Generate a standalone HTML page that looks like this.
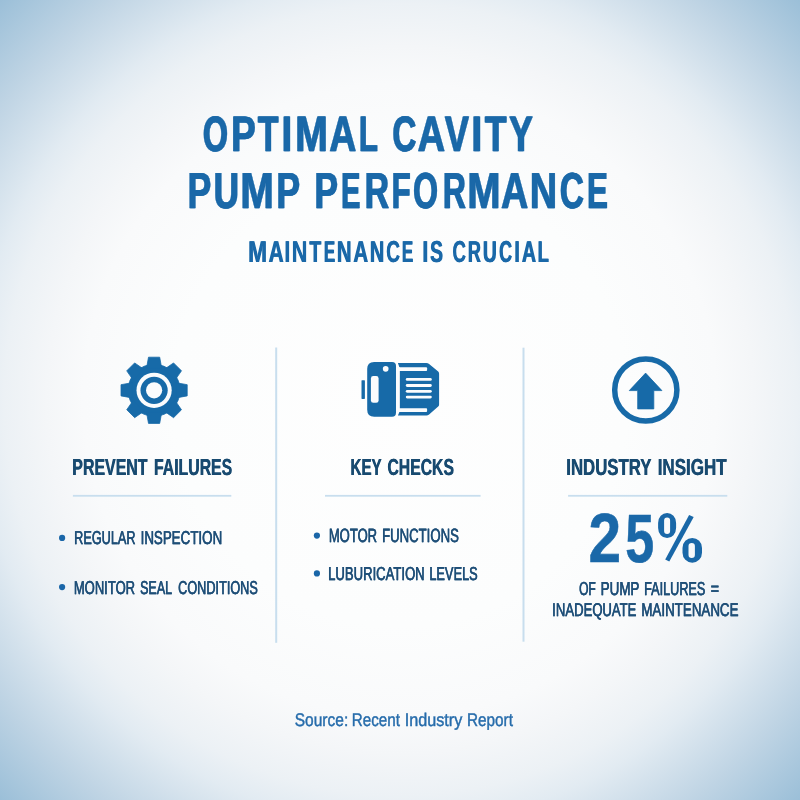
<!DOCTYPE html>
<html><head><meta charset="utf-8"><style>
html,body{margin:0;padding:0;width:800px;height:800px;overflow:hidden}
body{background:radial-gradient(farthest-corner at 50% 50%, #fefefe 0%, #fcfdfd 40%, #f9fafb 56%, #f4f6f8 62.5%, #ecf1f5 70%, #e2ebf2 75%, #bfd4e4 87.5%, #9bbfd8 100%);font-family:"Liberation Sans",sans-serif}
svg{position:absolute;left:0;top:0;will-change:transform}
text{font-family:"Liberation Sans",sans-serif;text-rendering:geometricPrecision}
</style></head><body>
<svg width="800" height="800" viewBox="0 0 800 800">
<g fill="#c8deee">
<rect x="275.2" y="347.5" width="2" height="295.3"/>
<rect x="522.5" y="347.7" width="2" height="294"/>
<rect x="72.9" y="494.9" width="158.4" height="1.8"/>
<rect x="325" y="494.9" width="155.6" height="1.8"/>
<rect x="568.1" y="494.9" width="159.2" height="1.8"/>
</g>
<g fill="#176aa8" stroke="#176aa8" stroke-width="0.8" stroke-linejoin="round">
<circle cx="154.1" cy="390.3" r="26.0"/>
<polygon points="146.50,368.30 148.50,357.20 159.70,357.20 161.70,368.30"/><polygon points="164.28,369.37 173.55,362.93 181.47,370.85 175.03,380.12"/><polygon points="176.10,382.70 187.20,384.70 187.20,395.90 176.10,397.90"/><polygon points="175.03,400.48 181.47,409.75 173.55,417.67 164.28,411.23"/><polygon points="161.70,412.30 159.70,423.40 148.50,423.40 146.50,412.30"/><polygon points="143.92,411.23 134.65,417.67 126.73,409.75 133.17,400.48"/><polygon points="132.10,397.90 121.00,395.90 121.00,384.70 132.10,382.70"/><polygon points="133.17,380.12 126.73,370.85 134.65,362.93 143.92,369.37"/>
</g>
<circle cx="154.1" cy="390.3" r="17.6" fill="#fbfcfd"/>
<circle cx="154.1" cy="390.3" r="13.6" fill="#176aa8"/>
<circle cx="154.1" cy="390.3" r="8.1" fill="#fbfcfd"/>
<g fill="#176aa8">
<rect x="361.5" y="380.2" width="3.4" height="18.7" rx="0.6"/>
<path d="M374.2,361.9 H392 Q396,361.9 396,366 V412.7 Q396,416.8 392,416.8 H374.2 Q367.2,416.8 367.2,409.8 V368.9 Q367.2,361.9 374.2,361.9 Z"/>
<path d="M397.9,363.1 H426.3 Q427.9,363.1 429.1,364.1 L438.2,371.5 Q439.1,372.3 439.1,373.8 V404.4 Q439.1,405.8 438.2,406.6 L429.1,414.5 Q427.9,415.5 426.3,415.5 H397.9 L399.4,411.9 V367.2 Z"/>
</g>
<g fill="#fbfcfd">
<circle cx="385.7" cy="368.8" r="2.85"/>
<rect x="370.9" y="376" width="7.7" height="26.8" rx="2.4"/>
<rect x="396.5" y="367.3" width="30.6" height="3.6" rx="0.9"/>
<rect x="396.5" y="408.2" width="30.6" height="3.7" rx="0.9"/>
<rect x="396" y="367.2" width="3.75" height="44.7"/>
<rect x="405.8" y="378.0" width="26" height="2.8" rx="1.4"/>
<rect x="405.8" y="384.1" width="26" height="2.8" rx="1.4"/>
<rect x="405.8" y="389.9" width="26" height="2.8" rx="1.4"/>
<rect x="405.8" y="395.7" width="26" height="2.8" rx="1.4"/>
</g>
<circle cx="645.8" cy="390" r="31.1" fill="none" stroke="#176aa8" stroke-width="5.5"/>
<path d="M645.6,373.1 L661.9,390.6 H653.8 V408.9 H637.7 V390.6 H629.3 Z" fill="#176aa8" stroke="#176aa8" stroke-width="0.8" stroke-linejoin="round"/>
<g fill="#1a66a8">
<circle cx="62.1" cy="537.9" r="3.1"/>
<circle cx="62.1" cy="587.1" r="3.1"/>
<circle cx="316.9" cy="535.6" r="3.1"/>
<circle cx="316.9" cy="573.4" r="3.1"/>
</g>
<path fill-rule="evenodd" fill="#1a68a8" d="M667.10,512.90 H667.10 A9.0,10.0 0 0 1 676.10,522.90 V528.10 A9.0,10.0 0 0 1 667.10,538.10 H667.10 A9.0,10.0 0 0 1 658.10,528.10 V522.90 A9.0,10.0 0 0 1 667.10,512.90 Z M667.10,517.40 H667.10 A3.0,3.0 0 0 1 670.10,520.40 V530.90 A3.0,3.0 0 0 1 667.10,533.90 H667.10 A3.0,3.0 0 0 1 664.10,530.90 V520.40 A3.0,3.0 0 0 1 667.10,517.40 Z M692.25,537.90 H692.25 A9.75,10.0 0 0 1 702.00,547.90 V552.80 A9.75,10.0 0 0 1 692.25,562.80 H692.25 A9.75,10.0 0 0 1 682.50,552.80 V547.90 A9.75,10.0 0 0 1 692.25,537.90 Z M691.70,542.90 H691.70 A3.2,3.2 0 0 1 694.90,546.10 V554.70 A3.2,3.2 0 0 1 691.70,557.90 H691.70 A3.2,3.2 0 0 1 688.50,554.70 V546.10 A3.2,3.2 0 0 1 691.70,542.90 Z "/><path fill="#1a68a8" d="M689.1,515.0 L693.7,517.0 L669.3,561.6 L665.2,559.6 Z"/>
<text id="h1" x="72.10" y="474.70" font-size="23.18" font-weight="bold" fill="#184a70" textLength="75.22" lengthAdjust="spacingAndGlyphs">PREVENT</text>
<text x="72.55" y="474.70" font-size="23.18" font-weight="bold" fill="#184a70" textLength="75.22" lengthAdjust="spacingAndGlyphs">PREVENT</text>
<text x="153.76" y="474.70" font-size="23.18" font-weight="bold" fill="#184a70" textLength="78.21" lengthAdjust="spacingAndGlyphs">FAILURES</text>
<text x="154.21" y="474.70" font-size="23.18" font-weight="bold" fill="#184a70" textLength="78.21" lengthAdjust="spacingAndGlyphs">FAILURES</text>
<text id="h2" x="350.30" y="474.70" font-size="23.18" font-weight="bold" fill="#184a70" textLength="31.16" lengthAdjust="spacingAndGlyphs">KEY</text>
<text x="350.75" y="474.70" font-size="23.18" font-weight="bold" fill="#184a70" textLength="31.16" lengthAdjust="spacingAndGlyphs">KEY</text>
<text x="387.26" y="474.70" font-size="23.18" font-weight="bold" fill="#184a70" textLength="66.46" lengthAdjust="spacingAndGlyphs">CHECKS</text>
<text x="387.71" y="474.70" font-size="23.18" font-weight="bold" fill="#184a70" textLength="66.46" lengthAdjust="spacingAndGlyphs">CHECKS</text>
<text id="h3" x="566.05" y="474.70" font-size="23.18" font-weight="bold" fill="#184a70" textLength="85.18" lengthAdjust="spacingAndGlyphs">INDUSTRY</text>
<text x="566.50" y="474.70" font-size="23.18" font-weight="bold" fill="#184a70" textLength="85.18" lengthAdjust="spacingAndGlyphs">INDUSTRY</text>
<text x="657.44" y="474.70" font-size="23.18" font-weight="bold" fill="#184a70" textLength="69.04" lengthAdjust="spacingAndGlyphs">INSIGHT</text>
<text x="657.89" y="474.70" font-size="23.18" font-weight="bold" fill="#184a70" textLength="69.04" lengthAdjust="spacingAndGlyphs">INSIGHT</text>
<text id="b1" x="74.01" y="544.10" font-size="18.63" font-weight="normal" fill="#1f4f78" textLength="61.43" lengthAdjust="spacingAndGlyphs" stroke="#1f4f78" stroke-width="0.3">REGULAR</text>
<text x="74.26" y="544.10" font-size="18.63" font-weight="normal" fill="#1f4f78" textLength="61.43" lengthAdjust="spacingAndGlyphs" stroke="#1f4f78" stroke-width="0.3">REGULAR</text>
<text x="140.46" y="544.10" font-size="18.63" font-weight="normal" fill="#1f4f78" textLength="81.58" lengthAdjust="spacingAndGlyphs" stroke="#1f4f78" stroke-width="0.3">INSPECTION</text>
<text x="140.71" y="544.10" font-size="18.63" font-weight="normal" fill="#1f4f78" textLength="81.58" lengthAdjust="spacingAndGlyphs" stroke="#1f4f78" stroke-width="0.3">INSPECTION</text>
<text id="b2" x="73.73" y="593.50" font-size="18.63" font-weight="normal" fill="#1f4f78" textLength="61.22" lengthAdjust="spacingAndGlyphs" stroke="#1f4f78" stroke-width="0.3">MONITOR</text>
<text x="73.98" y="593.50" font-size="18.63" font-weight="normal" fill="#1f4f78" textLength="61.22" lengthAdjust="spacingAndGlyphs" stroke="#1f4f78" stroke-width="0.3">MONITOR</text>
<text x="140.01" y="593.50" font-size="18.63" font-weight="normal" fill="#1f4f78" textLength="31.95" lengthAdjust="spacingAndGlyphs" stroke="#1f4f78" stroke-width="0.3">SEAL</text>
<text x="140.26" y="593.50" font-size="18.63" font-weight="normal" fill="#1f4f78" textLength="31.95" lengthAdjust="spacingAndGlyphs" stroke="#1f4f78" stroke-width="0.3">SEAL</text>
<text x="178.01" y="593.50" font-size="18.63" font-weight="normal" fill="#1f4f78" textLength="79.68" lengthAdjust="spacingAndGlyphs" stroke="#1f4f78" stroke-width="0.3">CONDITIONS</text>
<text x="178.26" y="593.50" font-size="18.63" font-weight="normal" fill="#1f4f78" textLength="79.68" lengthAdjust="spacingAndGlyphs" stroke="#1f4f78" stroke-width="0.3">CONDITIONS</text>
<text id="b3" x="328.73" y="542.30" font-size="19.20" font-weight="normal" fill="#1f4f78" textLength="48.22" lengthAdjust="spacingAndGlyphs" stroke="#1f4f78" stroke-width="0.3">MOTOR</text>
<text x="328.98" y="542.30" font-size="19.20" font-weight="normal" fill="#1f4f78" textLength="48.22" lengthAdjust="spacingAndGlyphs" stroke="#1f4f78" stroke-width="0.3">MOTOR</text>
<text x="381.97" y="542.30" font-size="19.20" font-weight="normal" fill="#1f4f78" textLength="76.73" lengthAdjust="spacingAndGlyphs" stroke="#1f4f78" stroke-width="0.3">FUNCTIONS</text>
<text x="382.22" y="542.30" font-size="19.20" font-weight="normal" fill="#1f4f78" textLength="76.73" lengthAdjust="spacingAndGlyphs" stroke="#1f4f78" stroke-width="0.3">FUNCTIONS</text>
<text id="b4" x="327.98" y="580.20" font-size="18.77" font-weight="normal" fill="#1f4f78" textLength="96.59" lengthAdjust="spacingAndGlyphs" stroke="#1f4f78" stroke-width="0.3">LUBURICATION</text>
<text x="328.23" y="580.20" font-size="18.77" font-weight="normal" fill="#1f4f78" textLength="96.59" lengthAdjust="spacingAndGlyphs" stroke="#1f4f78" stroke-width="0.3">LUBURICATION</text>
<text x="429.25" y="580.20" font-size="18.77" font-weight="normal" fill="#1f4f78" textLength="48.28" lengthAdjust="spacingAndGlyphs" stroke="#1f4f78" stroke-width="0.3">LEVELS</text>
<text x="429.50" y="580.20" font-size="18.77" font-weight="normal" fill="#1f4f78" textLength="48.28" lengthAdjust="spacingAndGlyphs" stroke="#1f4f78" stroke-width="0.3">LEVELS</text>
<text id="p1" x="588.42" y="562.00" font-size="69.83" font-weight="bold" fill="#1a68a8" textLength="32.53" lengthAdjust="spacingAndGlyphs" stroke="#1a68a8" stroke-width="0.6">2</text>
<text id="p1b" x="625.29" y="561.60" font-size="68.27" font-weight="bold" fill="#1a68a8" textLength="28.91" lengthAdjust="spacingAndGlyphs" stroke="#1a68a8" stroke-width="0.6">5</text>
<text id="p2" x="578.94" y="594.50" font-size="18.77" font-weight="normal" fill="#1f4f78" textLength="16.71" lengthAdjust="spacingAndGlyphs" stroke="#1f4f78" stroke-width="0.3">OF</text>
<text x="579.19" y="594.50" font-size="18.77" font-weight="normal" fill="#1f4f78" textLength="16.71" lengthAdjust="spacingAndGlyphs" stroke="#1f4f78" stroke-width="0.3">OF</text>
<text x="600.45" y="594.50" font-size="18.77" font-weight="normal" fill="#1f4f78" textLength="38.87" lengthAdjust="spacingAndGlyphs" stroke="#1f4f78" stroke-width="0.3">PUMP</text>
<text x="600.70" y="594.50" font-size="18.77" font-weight="normal" fill="#1f4f78" textLength="38.87" lengthAdjust="spacingAndGlyphs" stroke="#1f4f78" stroke-width="0.3">PUMP</text>
<text x="644.01" y="594.50" font-size="18.77" font-weight="normal" fill="#1f4f78" textLength="61.27" lengthAdjust="spacingAndGlyphs" stroke="#1f4f78" stroke-width="0.3">FAILURES</text>
<text x="644.26" y="594.50" font-size="18.77" font-weight="normal" fill="#1f4f78" textLength="61.27" lengthAdjust="spacingAndGlyphs" stroke="#1f4f78" stroke-width="0.3">FAILURES</text>
<text x="710.57" y="594.50" font-size="18.77" font-weight="normal" fill="#1f4f78" textLength="8.47" lengthAdjust="spacingAndGlyphs" stroke="#1f4f78" stroke-width="0.3">=</text>
<text x="710.82" y="594.50" font-size="18.77" font-weight="normal" fill="#1f4f78" textLength="8.47" lengthAdjust="spacingAndGlyphs" stroke="#1f4f78" stroke-width="0.3">=</text>
<text id="p3" x="552.08" y="615.50" font-size="18.49" font-weight="normal" fill="#1f4f78" textLength="84.22" lengthAdjust="spacingAndGlyphs" stroke="#1f4f78" stroke-width="0.3">INADEQUATE</text>
<text x="552.33" y="615.50" font-size="18.49" font-weight="normal" fill="#1f4f78" textLength="84.22" lengthAdjust="spacingAndGlyphs" stroke="#1f4f78" stroke-width="0.3">INADEQUATE</text>
<text x="641.21" y="615.50" font-size="18.49" font-weight="normal" fill="#1f4f78" textLength="97.20" lengthAdjust="spacingAndGlyphs" stroke="#1f4f78" stroke-width="0.3">MAINTENANCE</text>
<text x="641.46" y="615.50" font-size="18.49" font-weight="normal" fill="#1f4f78" textLength="97.20" lengthAdjust="spacingAndGlyphs" stroke="#1f4f78" stroke-width="0.3">MAINTENANCE</text>
<text id="s1" x="294.77" y="725.80" font-size="18.20" font-weight="normal" fill="#266cab" textLength="53.44" lengthAdjust="spacingAndGlyphs" stroke="#266cab" stroke-width="0.45">Source:</text>
<text x="351.81" y="725.80" font-size="18.20" font-weight="normal" fill="#266cab" textLength="48.13" lengthAdjust="spacingAndGlyphs" stroke="#266cab" stroke-width="0.45">Recent</text>
<text x="404.74" y="725.80" font-size="18.20" font-weight="normal" fill="#266cab" textLength="57.56" lengthAdjust="spacingAndGlyphs" stroke="#266cab" stroke-width="0.45">Industry</text>
<text x="467.00" y="725.80" font-size="18.20" font-weight="normal" fill="#266cab" textLength="45.94" lengthAdjust="spacingAndGlyphs" stroke="#266cab" stroke-width="0.45">Report</text>
<text x="202.60" y="151.20" font-size="49.78" font-weight="bold" fill="#1a68a8" textLength="24.89" lengthAdjust="spacingAndGlyphs" stroke="#1a68a8" stroke-width="0.5">O</text>
<text x="203.40" y="151.20" font-size="49.78" font-weight="bold" fill="#1a68a8" textLength="24.89" lengthAdjust="spacingAndGlyphs" stroke="#1a68a8" stroke-width="0.5">O</text>
<text x="230.70" y="151.20" font-size="49.78" font-weight="bold" fill="#1a68a8" textLength="24.57" lengthAdjust="spacingAndGlyphs" stroke="#1a68a8" stroke-width="0.5">P</text>
<text x="231.50" y="151.20" font-size="49.78" font-weight="bold" fill="#1a68a8" textLength="24.57" lengthAdjust="spacingAndGlyphs" stroke="#1a68a8" stroke-width="0.5">P</text>
<text x="257.50" y="151.20" font-size="49.78" font-weight="bold" fill="#1a68a8" textLength="20.65" lengthAdjust="spacingAndGlyphs" stroke="#1a68a8" stroke-width="0.5">T</text>
<text x="258.30" y="151.20" font-size="49.78" font-weight="bold" fill="#1a68a8" textLength="20.65" lengthAdjust="spacingAndGlyphs" stroke="#1a68a8" stroke-width="0.5">T</text>
<text x="281.24" y="151.20" font-size="49.78" font-weight="bold" fill="#1a68a8" textLength="10.49" lengthAdjust="spacingAndGlyphs" stroke="#1a68a8" stroke-width="0.5">I</text>
<text x="282.04" y="151.20" font-size="49.78" font-weight="bold" fill="#1a68a8" textLength="10.49" lengthAdjust="spacingAndGlyphs" stroke="#1a68a8" stroke-width="0.5">I</text>
<text x="294.74" y="151.20" font-size="49.78" font-weight="bold" fill="#1a68a8" textLength="32.80" lengthAdjust="spacingAndGlyphs" stroke="#1a68a8" stroke-width="0.5">M</text>
<text x="295.54" y="151.20" font-size="49.78" font-weight="bold" fill="#1a68a8" textLength="32.80" lengthAdjust="spacingAndGlyphs" stroke="#1a68a8" stroke-width="0.5">M</text>
<text x="329.02" y="151.20" font-size="49.78" font-weight="bold" fill="#1a68a8" textLength="26.89" lengthAdjust="spacingAndGlyphs" stroke="#1a68a8" stroke-width="0.5">A</text>
<text x="329.82" y="151.20" font-size="49.78" font-weight="bold" fill="#1a68a8" textLength="26.89" lengthAdjust="spacingAndGlyphs" stroke="#1a68a8" stroke-width="0.5">A</text>
<text x="358.46" y="151.20" font-size="49.78" font-weight="bold" fill="#1a68a8" textLength="18.97" lengthAdjust="spacingAndGlyphs" stroke="#1a68a8" stroke-width="0.5">L</text>
<text x="359.26" y="151.20" font-size="49.78" font-weight="bold" fill="#1a68a8" textLength="18.97" lengthAdjust="spacingAndGlyphs" stroke="#1a68a8" stroke-width="0.5">L</text>
<text x="392.06" y="151.20" font-size="49.78" font-weight="bold" fill="#1a68a8" textLength="23.97" lengthAdjust="spacingAndGlyphs" stroke="#1a68a8" stroke-width="0.5">C</text>
<text x="392.86" y="151.20" font-size="49.78" font-weight="bold" fill="#1a68a8" textLength="23.97" lengthAdjust="spacingAndGlyphs" stroke="#1a68a8" stroke-width="0.5">C</text>
<text x="417.31" y="151.20" font-size="49.78" font-weight="bold" fill="#1a68a8" textLength="27.42" lengthAdjust="spacingAndGlyphs" stroke="#1a68a8" stroke-width="0.5">A</text>
<text x="418.11" y="151.20" font-size="49.78" font-weight="bold" fill="#1a68a8" textLength="27.42" lengthAdjust="spacingAndGlyphs" stroke="#1a68a8" stroke-width="0.5">A</text>
<text x="444.40" y="151.20" font-size="49.78" font-weight="bold" fill="#1a68a8" textLength="24.02" lengthAdjust="spacingAndGlyphs" stroke="#1a68a8" stroke-width="0.5">V</text>
<text x="445.20" y="151.20" font-size="49.78" font-weight="bold" fill="#1a68a8" textLength="24.02" lengthAdjust="spacingAndGlyphs" stroke="#1a68a8" stroke-width="0.5">V</text>
<text x="471.12" y="151.20" font-size="49.78" font-weight="bold" fill="#1a68a8" textLength="10.58" lengthAdjust="spacingAndGlyphs" stroke="#1a68a8" stroke-width="0.5">I</text>
<text x="471.92" y="151.20" font-size="49.78" font-weight="bold" fill="#1a68a8" textLength="10.58" lengthAdjust="spacingAndGlyphs" stroke="#1a68a8" stroke-width="0.5">I</text>
<text x="484.40" y="151.20" font-size="49.78" font-weight="bold" fill="#1a68a8" textLength="21.75" lengthAdjust="spacingAndGlyphs" stroke="#1a68a8" stroke-width="0.5">T</text>
<text x="485.20" y="151.20" font-size="49.78" font-weight="bold" fill="#1a68a8" textLength="21.75" lengthAdjust="spacingAndGlyphs" stroke="#1a68a8" stroke-width="0.5">T</text>
<text x="508.85" y="151.20" font-size="49.78" font-weight="bold" fill="#1a68a8" textLength="23.48" lengthAdjust="spacingAndGlyphs" stroke="#1a68a8" stroke-width="0.5">Y</text>
<text x="509.65" y="151.20" font-size="49.78" font-weight="bold" fill="#1a68a8" textLength="23.48" lengthAdjust="spacingAndGlyphs" stroke="#1a68a8" stroke-width="0.5">Y</text>
<text x="187.19" y="208.40" font-size="50.63" font-weight="bold" fill="#1a68a8" textLength="23.54" lengthAdjust="spacingAndGlyphs" stroke="#1a68a8" stroke-width="0.5">P</text>
<text x="187.99" y="208.40" font-size="50.63" font-weight="bold" fill="#1a68a8" textLength="23.54" lengthAdjust="spacingAndGlyphs" stroke="#1a68a8" stroke-width="0.5">P</text>
<text x="213.37" y="208.40" font-size="50.63" font-weight="bold" fill="#1a68a8" textLength="25.07" lengthAdjust="spacingAndGlyphs" stroke="#1a68a8" stroke-width="0.5">U</text>
<text x="214.17" y="208.40" font-size="50.63" font-weight="bold" fill="#1a68a8" textLength="25.07" lengthAdjust="spacingAndGlyphs" stroke="#1a68a8" stroke-width="0.5">U</text>
<text x="239.99" y="208.40" font-size="50.63" font-weight="bold" fill="#1a68a8" textLength="33.49" lengthAdjust="spacingAndGlyphs" stroke="#1a68a8" stroke-width="0.5">M</text>
<text x="240.79" y="208.40" font-size="50.63" font-weight="bold" fill="#1a68a8" textLength="33.49" lengthAdjust="spacingAndGlyphs" stroke="#1a68a8" stroke-width="0.5">M</text>
<text x="275.88" y="208.40" font-size="50.63" font-weight="bold" fill="#1a68a8" textLength="23.65" lengthAdjust="spacingAndGlyphs" stroke="#1a68a8" stroke-width="0.5">P</text>
<text x="276.68" y="208.40" font-size="50.63" font-weight="bold" fill="#1a68a8" textLength="23.65" lengthAdjust="spacingAndGlyphs" stroke="#1a68a8" stroke-width="0.5">P</text>
<text x="314.04" y="208.40" font-size="50.63" font-weight="bold" fill="#1a68a8" textLength="23.59" lengthAdjust="spacingAndGlyphs" stroke="#1a68a8" stroke-width="0.5">P</text>
<text x="314.84" y="208.40" font-size="50.63" font-weight="bold" fill="#1a68a8" textLength="23.59" lengthAdjust="spacingAndGlyphs" stroke="#1a68a8" stroke-width="0.5">P</text>
<text x="340.69" y="208.40" font-size="50.63" font-weight="bold" fill="#1a68a8" textLength="19.27" lengthAdjust="spacingAndGlyphs" stroke="#1a68a8" stroke-width="0.5">E</text>
<text x="341.49" y="208.40" font-size="50.63" font-weight="bold" fill="#1a68a8" textLength="19.27" lengthAdjust="spacingAndGlyphs" stroke="#1a68a8" stroke-width="0.5">E</text>
<text x="364.13" y="208.40" font-size="50.63" font-weight="bold" fill="#1a68a8" textLength="24.46" lengthAdjust="spacingAndGlyphs" stroke="#1a68a8" stroke-width="0.5">R</text>
<text x="364.93" y="208.40" font-size="50.63" font-weight="bold" fill="#1a68a8" textLength="24.46" lengthAdjust="spacingAndGlyphs" stroke="#1a68a8" stroke-width="0.5">R</text>
<text x="391.15" y="208.40" font-size="50.63" font-weight="bold" fill="#1a68a8" textLength="19.07" lengthAdjust="spacingAndGlyphs" stroke="#1a68a8" stroke-width="0.5">F</text>
<text x="391.95" y="208.40" font-size="50.63" font-weight="bold" fill="#1a68a8" textLength="19.07" lengthAdjust="spacingAndGlyphs" stroke="#1a68a8" stroke-width="0.5">F</text>
<text x="412.75" y="208.40" font-size="50.63" font-weight="bold" fill="#1a68a8" textLength="24.84" lengthAdjust="spacingAndGlyphs" stroke="#1a68a8" stroke-width="0.5">O</text>
<text x="413.55" y="208.40" font-size="50.63" font-weight="bold" fill="#1a68a8" textLength="24.84" lengthAdjust="spacingAndGlyphs" stroke="#1a68a8" stroke-width="0.5">O</text>
<text x="442.41" y="208.40" font-size="50.63" font-weight="bold" fill="#1a68a8" textLength="23.00" lengthAdjust="spacingAndGlyphs" stroke="#1a68a8" stroke-width="0.5">R</text>
<text x="443.21" y="208.40" font-size="50.63" font-weight="bold" fill="#1a68a8" textLength="23.00" lengthAdjust="spacingAndGlyphs" stroke="#1a68a8" stroke-width="0.5">R</text>
<text x="466.92" y="208.40" font-size="50.63" font-weight="bold" fill="#1a68a8" textLength="33.09" lengthAdjust="spacingAndGlyphs" stroke="#1a68a8" stroke-width="0.5">M</text>
<text x="467.72" y="208.40" font-size="50.63" font-weight="bold" fill="#1a68a8" textLength="33.09" lengthAdjust="spacingAndGlyphs" stroke="#1a68a8" stroke-width="0.5">M</text>
<text x="500.66" y="208.40" font-size="50.63" font-weight="bold" fill="#1a68a8" textLength="27.05" lengthAdjust="spacingAndGlyphs" stroke="#1a68a8" stroke-width="0.5">A</text>
<text x="501.46" y="208.40" font-size="50.63" font-weight="bold" fill="#1a68a8" textLength="27.05" lengthAdjust="spacingAndGlyphs" stroke="#1a68a8" stroke-width="0.5">A</text>
<text x="529.55" y="208.40" font-size="50.63" font-weight="bold" fill="#1a68a8" textLength="27.12" lengthAdjust="spacingAndGlyphs" stroke="#1a68a8" stroke-width="0.5">N</text>
<text x="530.35" y="208.40" font-size="50.63" font-weight="bold" fill="#1a68a8" textLength="27.12" lengthAdjust="spacingAndGlyphs" stroke="#1a68a8" stroke-width="0.5">N</text>
<text x="559.56" y="208.40" font-size="50.63" font-weight="bold" fill="#1a68a8" textLength="24.02" lengthAdjust="spacingAndGlyphs" stroke="#1a68a8" stroke-width="0.5">C</text>
<text x="560.36" y="208.40" font-size="50.63" font-weight="bold" fill="#1a68a8" textLength="24.02" lengthAdjust="spacingAndGlyphs" stroke="#1a68a8" stroke-width="0.5">C</text>
<text x="586.81" y="208.40" font-size="50.63" font-weight="bold" fill="#1a68a8" textLength="20.71" lengthAdjust="spacingAndGlyphs" stroke="#1a68a8" stroke-width="0.5">E</text>
<text x="587.61" y="208.40" font-size="50.63" font-weight="bold" fill="#1a68a8" textLength="20.71" lengthAdjust="spacingAndGlyphs" stroke="#1a68a8" stroke-width="0.5">E</text>
<text x="247.83" y="261.60" font-size="30.29" font-weight="bold" fill="#1a68a8" textLength="18.89" lengthAdjust="spacingAndGlyphs">M</text>
<text x="248.53" y="261.60" font-size="30.29" font-weight="bold" fill="#1a68a8" textLength="18.89" lengthAdjust="spacingAndGlyphs">M</text>
<text x="268.18" y="261.60" font-size="30.29" font-weight="bold" fill="#1a68a8" textLength="15.02" lengthAdjust="spacingAndGlyphs">A</text>
<text x="268.88" y="261.60" font-size="30.29" font-weight="bold" fill="#1a68a8" textLength="15.02" lengthAdjust="spacingAndGlyphs">A</text>
<text x="284.28" y="261.60" font-size="30.29" font-weight="bold" fill="#1a68a8" textLength="5.42" lengthAdjust="spacingAndGlyphs">I</text>
<text x="284.98" y="261.60" font-size="30.29" font-weight="bold" fill="#1a68a8" textLength="5.42" lengthAdjust="spacingAndGlyphs">I</text>
<text x="291.40" y="261.60" font-size="30.29" font-weight="bold" fill="#1a68a8" textLength="15.57" lengthAdjust="spacingAndGlyphs">N</text>
<text x="292.10" y="261.60" font-size="30.29" font-weight="bold" fill="#1a68a8" textLength="15.57" lengthAdjust="spacingAndGlyphs">N</text>
<text x="309.00" y="261.60" font-size="30.29" font-weight="bold" fill="#1a68a8" textLength="11.83" lengthAdjust="spacingAndGlyphs">T</text>
<text x="309.70" y="261.60" font-size="30.29" font-weight="bold" fill="#1a68a8" textLength="11.83" lengthAdjust="spacingAndGlyphs">T</text>
<text x="323.44" y="261.60" font-size="30.29" font-weight="bold" fill="#1a68a8" textLength="11.31" lengthAdjust="spacingAndGlyphs">E</text>
<text x="324.14" y="261.60" font-size="30.29" font-weight="bold" fill="#1a68a8" textLength="11.31" lengthAdjust="spacingAndGlyphs">E</text>
<text x="336.48" y="261.60" font-size="30.29" font-weight="bold" fill="#1a68a8" textLength="14.66" lengthAdjust="spacingAndGlyphs">N</text>
<text x="337.18" y="261.60" font-size="30.29" font-weight="bold" fill="#1a68a8" textLength="14.66" lengthAdjust="spacingAndGlyphs">N</text>
<text x="352.93" y="261.60" font-size="30.29" font-weight="bold" fill="#1a68a8" textLength="14.76" lengthAdjust="spacingAndGlyphs">A</text>
<text x="353.63" y="261.60" font-size="30.29" font-weight="bold" fill="#1a68a8" textLength="14.76" lengthAdjust="spacingAndGlyphs">A</text>
<text x="369.51" y="261.60" font-size="30.29" font-weight="bold" fill="#1a68a8" textLength="14.35" lengthAdjust="spacingAndGlyphs">N</text>
<text x="370.21" y="261.60" font-size="30.29" font-weight="bold" fill="#1a68a8" textLength="14.35" lengthAdjust="spacingAndGlyphs">N</text>
<text x="385.90" y="261.60" font-size="30.29" font-weight="bold" fill="#1a68a8" textLength="13.76" lengthAdjust="spacingAndGlyphs">C</text>
<text x="386.60" y="261.60" font-size="30.29" font-weight="bold" fill="#1a68a8" textLength="13.76" lengthAdjust="spacingAndGlyphs">C</text>
<text x="401.41" y="261.60" font-size="30.29" font-weight="bold" fill="#1a68a8" textLength="11.59" lengthAdjust="spacingAndGlyphs">E</text>
<text x="402.11" y="261.60" font-size="30.29" font-weight="bold" fill="#1a68a8" textLength="11.59" lengthAdjust="spacingAndGlyphs">E</text>
<text x="421.93" y="261.60" font-size="30.29" font-weight="bold" fill="#1a68a8" textLength="5.87" lengthAdjust="spacingAndGlyphs">I</text>
<text x="422.63" y="261.60" font-size="30.29" font-weight="bold" fill="#1a68a8" textLength="5.87" lengthAdjust="spacingAndGlyphs">I</text>
<text x="429.70" y="261.60" font-size="30.29" font-weight="bold" fill="#1a68a8" textLength="12.86" lengthAdjust="spacingAndGlyphs">S</text>
<text x="430.40" y="261.60" font-size="30.29" font-weight="bold" fill="#1a68a8" textLength="12.86" lengthAdjust="spacingAndGlyphs">S</text>
<text x="452.17" y="261.60" font-size="30.29" font-weight="bold" fill="#1a68a8" textLength="13.49" lengthAdjust="spacingAndGlyphs">C</text>
<text x="452.87" y="261.60" font-size="30.29" font-weight="bold" fill="#1a68a8" textLength="13.49" lengthAdjust="spacingAndGlyphs">C</text>
<text x="467.62" y="261.60" font-size="30.29" font-weight="bold" fill="#1a68a8" textLength="13.02" lengthAdjust="spacingAndGlyphs">R</text>
<text x="468.32" y="261.60" font-size="30.29" font-weight="bold" fill="#1a68a8" textLength="13.02" lengthAdjust="spacingAndGlyphs">R</text>
<text x="482.60" y="261.60" font-size="30.29" font-weight="bold" fill="#1a68a8" textLength="13.92" lengthAdjust="spacingAndGlyphs">U</text>
<text x="483.30" y="261.60" font-size="30.29" font-weight="bold" fill="#1a68a8" textLength="13.92" lengthAdjust="spacingAndGlyphs">U</text>
<text x="498.69" y="261.60" font-size="30.29" font-weight="bold" fill="#1a68a8" textLength="12.95" lengthAdjust="spacingAndGlyphs">C</text>
<text x="499.39" y="261.60" font-size="30.29" font-weight="bold" fill="#1a68a8" textLength="12.95" lengthAdjust="spacingAndGlyphs">C</text>
<text x="514.03" y="261.60" font-size="30.29" font-weight="bold" fill="#1a68a8" textLength="5.42" lengthAdjust="spacingAndGlyphs">I</text>
<text x="514.73" y="261.60" font-size="30.29" font-weight="bold" fill="#1a68a8" textLength="5.42" lengthAdjust="spacingAndGlyphs">I</text>
<text x="521.44" y="261.60" font-size="30.29" font-weight="bold" fill="#1a68a8" textLength="14.23" lengthAdjust="spacingAndGlyphs">A</text>
<text x="522.14" y="261.60" font-size="30.29" font-weight="bold" fill="#1a68a8" textLength="14.23" lengthAdjust="spacingAndGlyphs">A</text>
<text x="537.35" y="261.60" font-size="30.29" font-weight="bold" fill="#1a68a8" textLength="11.27" lengthAdjust="spacingAndGlyphs">L</text>
<text x="538.05" y="261.60" font-size="30.29" font-weight="bold" fill="#1a68a8" textLength="11.27" lengthAdjust="spacingAndGlyphs">L</text>
</svg>
</body></html>
